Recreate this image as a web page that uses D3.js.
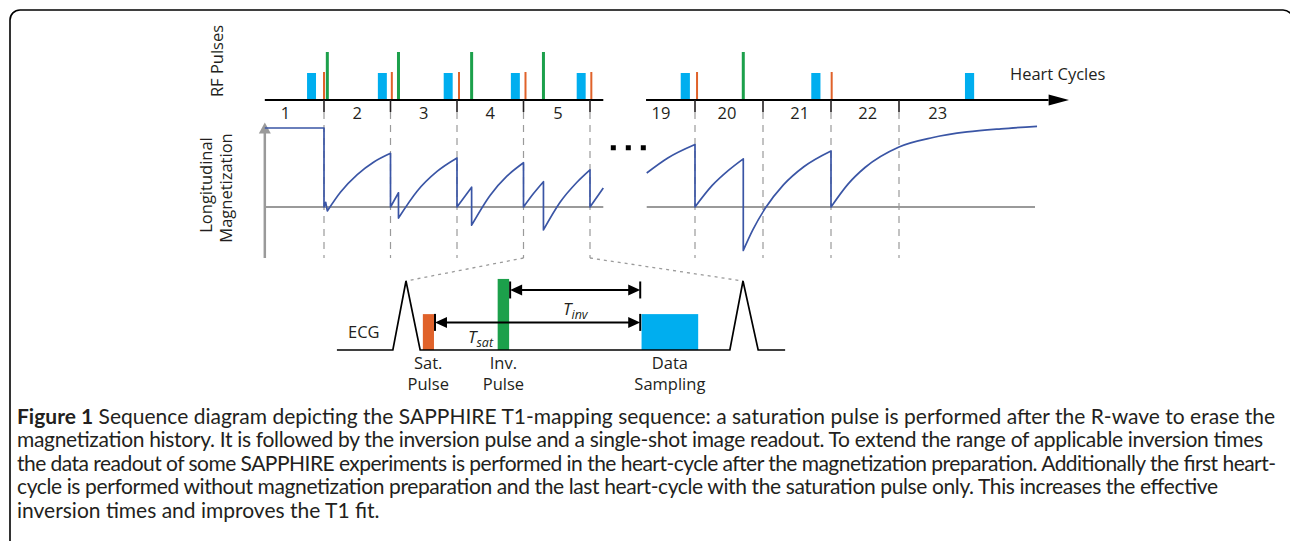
<!DOCTYPE html>
<html>
<head>
<meta charset="utf-8">
<script src="https://cdn.jsdelivr.net/npm/d3@7"></script>
<style>
  html, body { margin: 0; padding: 0; background: #fff; }
  svg { display: block; }
  text { font-family: "Open Sans", sans-serif; fill: #231f20; }
  .caption text { font-family: "Lato", "Open Sans", sans-serif; }
</style>
</head>
<body>
<svg id="chart" width="1290" height="541"></svg>
<script>
// ---- data (times are in heart-cycle units) ----
const cyclesA = ["1", "2", "3", "4", "5"];
const cycleLabelTA = [0.42, 1.5, 2.5, 3.5, 4.52];
const boundariesA = [1, 2, 3, 4, 5];
const cyclesB = ["19", "20", "21", "22", "23"];
const cycleLabelTB = [18.5, 19.47, 20.54, 21.54, 22.57];
const boundariesB = [19, 20, 21, 22];

// rf pulses
const readoutA = [0.745, 1.81, 2.80, 3.81, 4.80];
const satA = [1.0, 2.02, 3.03, 4.03, 5.02];
const invA = [1.05, 2.12, 3.22, 4.30];
const readoutB = [18.79, 20.71, 22.97];
const satB = [19.03, 21.01];
const invB = [19.71];
const readoutDur = 0.135;

// longitudinal magnetization, one array per recovery between pulses: [t, M]
const magA = [
  [[0.11, 1.0], [1.0, 1.0]],
  [[1.0, 0.0], [1.025, 0.06]],
  [[1.05, -0.05], [1.25, 0.19], [1.5, 0.41], [1.75, 0.57], [2.0, 0.68]],
  [[2.0, 0.0], [2.12, 0.18]],
  [[2.12, -0.14], [2.4, 0.2], [2.7, 0.45], [3.0, 0.62]],
  [[3.0, 0.0], [3.22, 0.25]],
  [[3.22, -0.23], [3.5, 0.15], [3.75, 0.39], [4.0, 0.56]],
  [[4.0, 0.0], [4.15, 0.17], [4.30, 0.32]],
  [[4.30, -0.29], [4.55, 0.06], [4.8, 0.31], [5.0, 0.47]],
  [[5.0, 0.0], [5.2, 0.24]]
];
const magB = [
  [[18.29, 0.43], [18.6, 0.62], [19.0, 0.79]],
  [[19.0, 0.0], [19.25, 0.27], [19.5, 0.47], [19.71, 0.61]],
  [[19.71, -0.55], [19.85, -0.29], [20.03, -0.02], [20.3, 0.28], [20.6, 0.51], [21.0, 0.71]],
  [[21.0, 0.0], [21.25, 0.29], [21.5, 0.5], [22.0, 0.76], [22.5, 0.88], [23.0, 0.95], [23.5, 0.99], [24.03, 1.02]]
];

// one heart cycle, zoomed (0 = R-wave, 1 = next R-wave)
const ecgTrace = [[-0.205, 0], [-0.039, 0], [0, 1], [0.042, 0], [0.961, 0], [1, 1], [1.045, 0], [1.125, 0]];
const zoomPulses = [
  { name: "sat", t0: 0.05, t1: 0.083, amp: 0.52 },
  { name: "inv", t0: 0.272, t1: 0.306, amp: 1.03 },
  { name: "readout", t0: 0.699, t1: 0.867, amp: 0.52 }
];
const tInv = { t0: 0.309, t1: 0.695, level: 0.87 };
const tSat = { t0: 0.086, t1: 0.695, level: 0.40 };
const pulseLabels = [
  { t: 0.066, lines: ["Sat.", "Pulse"] },
  { t: 0.289, lines: ["Inv.", "Pulse"] },
  { t: 0.783, lines: ["Data", "Sampling"] }
];

const captionBold = "Figure 1";
const captionLines = [
  "Sequence diagram depicting the SAPPHIRE T1-mapping sequence: a saturation pulse is performed after the R-wave to erase the",
  "magnetization history. It is followed by the inversion pulse and a single-shot image readout. To extend the range of applicable inversion times",
  "the data readout of some SAPPHIRE experiments is performed in the heart-cycle after the magnetization preparation. Additionally the first heart-",
  "cycle is performed without magnetization preparation and the last heart-cycle with the saturation pulse only. This increases the effective",
  "inversion times and improves the T1 fit."
];
// right edge of each caption line (last one left ragged)
const captionEnds = [1275, 1263, 1276, 1218, null];

// ---- colours ----
const cBlue = "#00aeef", cOrange = "#e0622a", cGreen = "#1ca04b";
const cCurve = "#3a55a5", cGray = "#9a9a9a", cInk = "#231f20";

const svg = d3.select("#chart");

// frame
svg.append("rect")
  .attr("x", 10).attr("y", 10).attr("width", 1283).attr("height", 620).attr("rx", 10)
  .attr("fill", "none").attr("stroke", "#000").attr("stroke-width", 1.6);

// scales
const xA = d3.scaleLinear().domain([1, 5]).range([324, 590]);
const xB = d3.scaleLinear().domain([19, 22]).range([695, 899]);
const yM = d3.scaleLinear().domain([0, 1]).range([207, 128]);
const axisY = 100, tickEnd = 112, dashEnd = 258;

// ---- magnetization panel grid ----
function drawGuides(x, bounds) {
  svg.append("g").selectAll("line").data(bounds).join("line")
    .attr("x1", d => x(d)).attr("x2", d => x(d))
    .attr("y1", tickEnd).attr("y2", dashEnd)
    .attr("stroke", cGray).attr("stroke-width", 1.2).attr("stroke-dasharray", "7,6");
}
drawGuides(xA, boundariesA);
drawGuides(xB, boundariesB);

// zero lines
svg.append("line").attr("x1", xA(0.11)).attr("x2", xA(5.2)).attr("y1", yM(0)).attr("y2", yM(0))
  .attr("stroke", cGray).attr("stroke-width", 2);
svg.append("line").attr("x1", xB(18.29)).attr("x2", xB(24.0)).attr("y1", yM(0)).attr("y2", yM(0))
  .attr("stroke", cGray).attr("stroke-width", 2);

// y-axis arrow
const y0x = xA(0.11);
svg.append("line").attr("x1", y0x).attr("x2", y0x).attr("y1", dashEnd).attr("y2", yM(0.97))
  .attr("stroke", cGray).attr("stroke-width", 2.5);
svg.append("path")
  .attr("d", `M${y0x - 6},${yM(0.93)}L${y0x},${yM(1.07)}L${y0x + 6},${yM(0.93)}Z`)
  .attr("fill", cGray);

// magnetization curve
function curvePath(x, segs) {
  const line = d3.line().x(d => x(d[0])).y(d => yM(d[1])).curve(d3.curveMonotoneX);
  return segs.map((s, i) => {
    const p = line(s);
    return i === 0 ? p : "L" + p.slice(1);
  }).join("");
}
svg.append("path").attr("d", curvePath(xA, magA))
  .attr("fill", "none").attr("stroke", cCurve).attr("stroke-width", 1.7).attr("stroke-linejoin", "round");
svg.append("path").attr("d", curvePath(xB, magB))
  .attr("fill", "none").attr("stroke", cCurve).attr("stroke-width", 1.7).attr("stroke-linejoin", "round");

// gap dots
const gapL = xA(5.2);
svg.append("g").selectAll("rect").data(d3.range(3)).join("rect")
  .attr("x", i => gapL + 7.5 + i * 15).attr("y", yM(0.75) - 2.5)
  .attr("width", 5).attr("height", 5).attr("fill", "#000");

// ---- RF pulse / heart cycle axis ----
function drawPulses(x, readout, sat, inv) {
  const g = svg.append("g");
  g.selectAll(".ro").data(readout).join("rect").attr("class", "ro")
    .attr("x", d => x(d)).attr("width", d => x(d + readoutDur) - x(d))
    .attr("y", axisY - 27).attr("height", 27).attr("fill", cBlue);
  g.selectAll(".sat").data(sat).join("rect").attr("class", "sat")
    .attr("x", d => x(d) - 1).attr("width", 2)
    .attr("y", axisY - 28).attr("height", 28).attr("fill", cOrange);
  g.selectAll(".inv").data(inv).join("rect").attr("class", "inv")
    .attr("x", d => x(d) - 1.5).attr("width", 3)
    .attr("y", axisY - 48).attr("height", 48).attr("fill", cGreen);
}
drawPulses(xA, readoutA, satA, invA);
drawPulses(xB, readoutB, satB, invB);

function drawCycleAxis(x, t0, t1, bounds, labels, labelT) {
  const g = svg.append("g");
  g.append("line").attr("x1", x(t0)).attr("x2", x(t1)).attr("y1", axisY).attr("y2", axisY)
    .attr("stroke", "#000").attr("stroke-width", 2.2);
  g.selectAll(".tk").data(bounds).join("line").attr("class", "tk")
    .attr("x1", d => x(d)).attr("x2", d => x(d)).attr("y1", axisY).attr("y2", tickEnd)
    .attr("stroke", cInk).attr("stroke-width", 1.6);
  g.selectAll(".lb").data(labels).join("text").attr("class", "lb")
    .attr("x", (d, i) => x(labelT[i])).attr("y", axisY + 19)
    .attr("text-anchor", "middle").style("font-size", "16.5px").text(d => d);
}
drawCycleAxis(xA, 0.11, 5.2, boundariesA, cyclesA, cycleLabelTA);
drawCycleAxis(xB, 18.28, 24.2, boundariesB, cyclesB, cycleLabelTB);
// arrow head on the time axis
svg.append("path")
  .attr("d", `M${xB(24.2)},${axisY - 5.5}L${xB(24.5)},${axisY}L${xB(24.2)},${axisY + 5.5}Z`)
  .attr("fill", "#000");
svg.append("text").attr("x", 1010).attr("y", 80).style("font-size", "16.5px").text("Heart Cycles");

// y labels
svg.append("text").attr("transform", "translate(223,61) rotate(-90)")
  .attr("text-anchor", "middle").style("font-size", "16.5px").text("RF Pulses");
svg.append("text").attr("transform", "translate(212,185) rotate(-90)")
  .attr("text-anchor", "middle").style("font-size", "16.5px").text("Longitudinal");
svg.append("text").attr("transform", "translate(232,188) rotate(-90)")
  .attr("text-anchor", "middle").style("font-size", "16.5px").text("Magnetization");

// ---- zoomed heart cycle ----
const xZ = d3.scaleLinear().domain([0, 1]).range([406, 743]);
const yZ = d3.scaleLinear().domain([0, 1]).range([350, 281]);

// dotted zoom guides
svg.append("line").attr("x1", xA(4)).attr("y1", dashEnd).attr("x2", xZ(0)).attr("y2", yZ(1))
  .attr("stroke", cGray).attr("stroke-width", 1.3).attr("stroke-dasharray", "3,4");
svg.append("line").attr("x1", xA(5)).attr("y1", dashEnd).attr("x2", xZ(1)).attr("y2", yZ(1))
  .attr("stroke", cGray).attr("stroke-width", 1.3).attr("stroke-dasharray", "3,4");

svg.append("g").selectAll("rect").data(zoomPulses).join("rect")
  .attr("x", d => xZ(d.t0)).attr("width", d => xZ(d.t1) - xZ(d.t0))
  .attr("y", d => yZ(d.amp)).attr("height", d => yZ(0) - yZ(d.amp))
  .attr("fill", d => d.name === "sat" ? cOrange : d.name === "inv" ? cGreen : cBlue);

svg.append("path")
  .attr("d", d3.line().x(d => xZ(d[0])).y(d => yZ(d[1]))(ecgTrace))
  .attr("fill", "none").attr("stroke", "#000").attr("stroke-width", 1.7).attr("stroke-linejoin", "miter");

function drawSpan(s) {
  const y = yZ(s.level), a = xZ(s.t0), b = xZ(s.t1), hl = 12, hw = 5.5, bar = 8.5;
  const g = svg.append("g");
  g.append("line").attr("x1", a + hl - 1).attr("x2", b - hl + 1).attr("y1", y).attr("y2", y)
    .attr("stroke", "#000").attr("stroke-width", 2);
  g.append("path").attr("d", `M${a},${y}L${a + hl},${y - hw}L${a + hl},${y + hw}Z M${b},${y}L${b - hl},${y - hw}L${b - hl},${y + hw}Z`)
    .attr("fill", "#000");
  [a, b].forEach(x => g.append("line").attr("x1", x).attr("x2", x).attr("y1", y - bar).attr("y2", y + bar)
    .attr("stroke", "#000").attr("stroke-width", 2));
}
drawSpan(tInv);
drawSpan(tSat);

function spanLabel(x, y, sub) {
  const t = svg.append("text").attr("x", x).attr("y", y).style("font-style", "italic").style("font-size", "17px");
  t.append("tspan").text("T");
  t.append("tspan").attr("dy", 4).style("font-size", "12.5px").text(sub);
}
spanLabel(xZ(0.466), 315, "inv");
spanLabel(xZ(0.184), 343, "sat");

svg.append("text").attr("x", 348).attr("y", 338).style("font-size", "16.5px").text("ECG");

svg.append("g").selectAll("text").data(pulseLabels).join("text")
  .attr("text-anchor", "middle").style("font-size", "16.5px")
  .each(function (d) {
    d3.select(this).selectAll("tspan").data(d.lines).join("tspan")
      .attr("x", xZ(d.t)).attr("y", (l, i) => 369 + i * 21).text(l => l);
  });

// ---- caption ----
const capX = 17;
const capG = svg.append("g").attr("class", "caption");
const capText = capG.selectAll("text").data(captionLines).join("text")
  .attr("x", capX).attr("y", (d, i) => 424 + i * 23.4)
  .style("font-size", "16px")
  .each(function (d, i) {
    const t = d3.select(this);
    if (i === 0) {
      t.append("tspan").style("font-weight", "bold").text(captionBold);
      t.append("tspan").text(" " + d);
    } else {
      t.text(d);
    }
  });
// size the caption so the first line spans the reference width
const w0 = capText.node().getComputedTextLength();
capText.style("font-size", (16 * (captionEnds[0] - capX) / w0) + "px");
capText.each(function (d, i) {
  if (captionEnds[i] !== null) {
    d3.select(this).attr("textLength", captionEnds[i] - capX).attr("lengthAdjust", "spacing");
  }
});
</script>
</body>
</html>
